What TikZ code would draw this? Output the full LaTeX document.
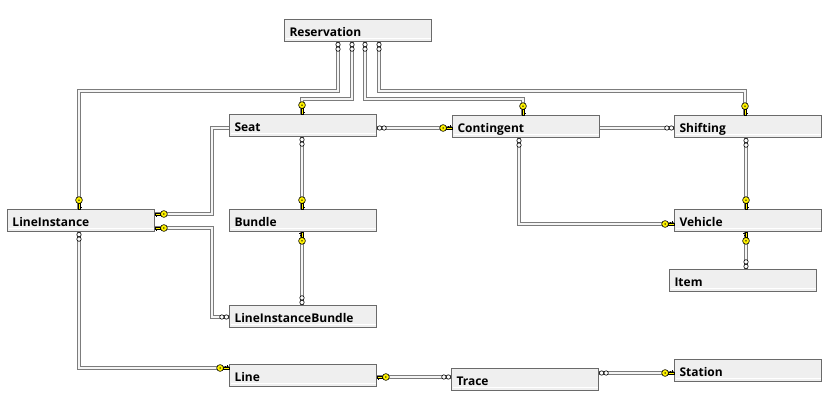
\documentclass[tikz,border=0pt]{standalone}
\usepackage{fontspec}
\setmainfont{Open Sans}
\usetikzlibrary{calc}
\definecolor{boxfill}{HTML}{EFEFEF}
\definecolor{boxline}{HTML}{6A6A6A}
\definecolor{connline}{HTML}{7C7C7C}
\definecolor{keyyellow}{HTML}{FFF200}
\begin{document}
\begin{tikzpicture}[x=1pt,y=-1pt,
  tbl/.style={draw=boxline, fill=boxfill, line width=1pt, rectangle, anchor=north west,
    minimum height=22pt, inner ysep=0pt, inner xsep=5pt, text width=137pt,
    text height=12pt, text depth=0pt, align=left,
    font=\fontsize{12pt}{14pt}\selectfont\bfseries,
    path picture={\draw[white, line width=1pt]
      ([xshift=1pt,yshift=2.5pt]path picture bounding box.south west) --
      ([xshift=-1pt,yshift=2.5pt]path picture bounding box.south east);}},
  relline/.style={draw=connline, line width=3.4pt, postaction={draw=white!92!gray, line width=1.2pt}},
  keysym/.pic={
    \filldraw[fill=keyyellow, draw=black, line width=0.5pt] (0,-1.1) rectangle (5.6,1.1);
    \draw[black, line width=0.7pt] (1.2,1.1) -- (1.2,2.7) (3.2,1.1) -- (3.2,2.4);
    \filldraw[fill=keyyellow, draw=black, line width=0.6pt] (8.9,0) circle [radius=3.4];
    \fill[black] (8.9,0) circle [radius=0.8];
  },
  manysym/.pic={
    \filldraw[fill=white, draw=black, line width=0.6pt] (2.6,0) circle [radius=2.2] (7.1,0) circle [radius=2.2];
  }
]
\fill[white] (0,0) rectangle (838,411);
\useasboundingbox (0,0) rectangle (838,411);

% tables
\node[tbl] (res) at (284,19) {Reservation};
\node[tbl] (seat) at (229,114) {Seat};
\node[tbl] (cont) at (452,115) {Contingent};
\node[tbl] (shf) at (674,115) {Shifting};
\node[tbl] (li) at (7,209) {LineInstance};
\node[tbl] (bun) at (229,209) {Bundle};
\node[tbl] (veh) at (674,209) {Vehicle};
\node[tbl] (item) at (669,269) {Item};
\node[tbl] (lib) at (229,305) {LineInstanceBundle};
\node[tbl] (lne) at (229,364) {Line};
\node[tbl] (trace) at (451,368) {Trace};
\node[tbl] (sta) at (674,359) {Station};

% connector end points
\coordinate (c1a) at ($(res.south west)+(54,0)$);
\coordinate (c1b) at ($(li.north west)+(72,0)$);
\coordinate (c2a) at ($(res.south west)+(68,0)$);
\coordinate (c2b) at ($(seat.north west)+(73,0)$);
\coordinate (c3a) at ($(res.south west)+(81,0)$);
\coordinate (c3b) at ($(cont.north west)+(71,0)$);
\coordinate (c4a) at ($(res.south west)+(95,0)$);
\coordinate (c4b) at ($(shf.north west)+(71,0)$);
\coordinate (c5a) at ($(seat.north east)+(0,14)$);
\coordinate (c5b) at ($(cont.north west)+(0,13)$);
\coordinate (c6a) at ($(cont.north east)+(0,13)$);
\coordinate (c6b) at ($(shf.north west)+(0,13)$);
\coordinate (c7a) at ($(seat.north west)+(0,14)$);
\coordinate (c7b) at ($(li.north east)+(0,5)$);
\coordinate (c8a) at ($(lib.north west)+(0,12)$);
\coordinate (c8b) at ($(li.north east)+(0,19)$);
\coordinate (c9a) at ($(seat.south west)+(73,0)$);
\coordinate (c9b) at ($(bun.north west)+(73,0)$);
\coordinate (c10a) at ($(bun.south west)+(73,0)$);
\coordinate (c10b) at ($(lib.north west)+(73,0)$);
\coordinate (c11a) at ($(shf.south west)+(72,0)$);
\coordinate (c11b) at ($(veh.north west)+(72,0)$);
\coordinate (c12a) at ($(veh.south west)+(72,0)$);
\coordinate (c12b) at ($(item.north west)+(77,0)$);
\coordinate (c13a) at ($(cont.south west)+(67,0)$);
\coordinate (c13b) at ($(veh.north west)+(0,15)$);
\coordinate (c14a) at ($(li.south west)+(72,0)$);
\coordinate (c14b) at ($(lne.north west)+(0,4)$);
\coordinate (c15a) at ($(lne.north east)+(0,13)$);
\coordinate (c15b) at ($(trace.north west)+(0,9)$);
\coordinate (c16a) at ($(trace.north east)+(0,5)$);
\coordinate (c16b) at ($(sta.north west)+(0,14)$);

% connectors
\path[relline] (c1a) -- ++(0,49) -| (c1b);
\path[relline] (c2a) -- ++(0,57) -| (c2b);
\path[relline] (c3a) -- ++(0,57) -| (c3b);
\path[relline] (c4a) -- ++(0,49) -| (c4b);
\path[relline] (c5a) -- (c5b);
\path[relline] (c6a) -- (c6b);
\path[relline] (c7a) -- ++(-17,0) |- (c7b);
\path[relline] (c8a) -- ++(-17,0) |- (c8b);
\path[relline] (c9a) -- (c9b);
\path[relline] (c10a) -- (c10b);
\path[relline] (c11a) -- (c11b);
\path[relline] (c12a) -- (c12b);
\path[relline] (c13a) |- (c13b);
\path[relline] (c14a) |- (c14b);
\path[relline] (c15a) -- (c15b);
\path[relline] (c16a) -- (c16b);

% end markers
\pic[rotate=-90] at (c1a) {manysym};
\pic[rotate=90] at (c1b) {keysym};
\pic[rotate=-90] at (c2a) {manysym};
\pic[rotate=90] at (c2b) {keysym};
\pic[rotate=-90] at (c3a) {manysym};
\pic[rotate=90] at (c3b) {keysym};
\pic[rotate=-90] at (c4a) {manysym};
\pic[rotate=90] at (c4b) {keysym};
\pic at (c5a) {manysym};
\pic[rotate=180] at (c5b) {keysym};
\pic[rotate=180] at (c6b) {manysym};
\pic at (c7b) {keysym};
\pic[rotate=180] at (c8a) {manysym};
\pic at (c8b) {keysym};
\pic[rotate=-90] at (c9a) {manysym};
\pic[rotate=90] at (c9b) {keysym};
\pic[rotate=-90] at (c10a) {keysym};
\pic[rotate=90] at (c10b) {manysym};
\pic[rotate=-90] at (c11a) {manysym};
\pic[rotate=90] at (c11b) {keysym};
\pic[rotate=-90] at (c12a) {keysym};
\pic[rotate=90] at (c12b) {manysym};
\pic[rotate=-90] at (c13a) {manysym};
\pic[rotate=180] at (c13b) {keysym};
\pic[rotate=-90] at (c14a) {manysym};
\pic[rotate=180] at (c14b) {keysym};
\pic at (c15a) {keysym};
\pic[rotate=180] at (c15b) {manysym};
\pic at (c16a) {manysym};
\pic[rotate=180] at (c16b) {keysym};
\end{tikzpicture}
\end{document}
